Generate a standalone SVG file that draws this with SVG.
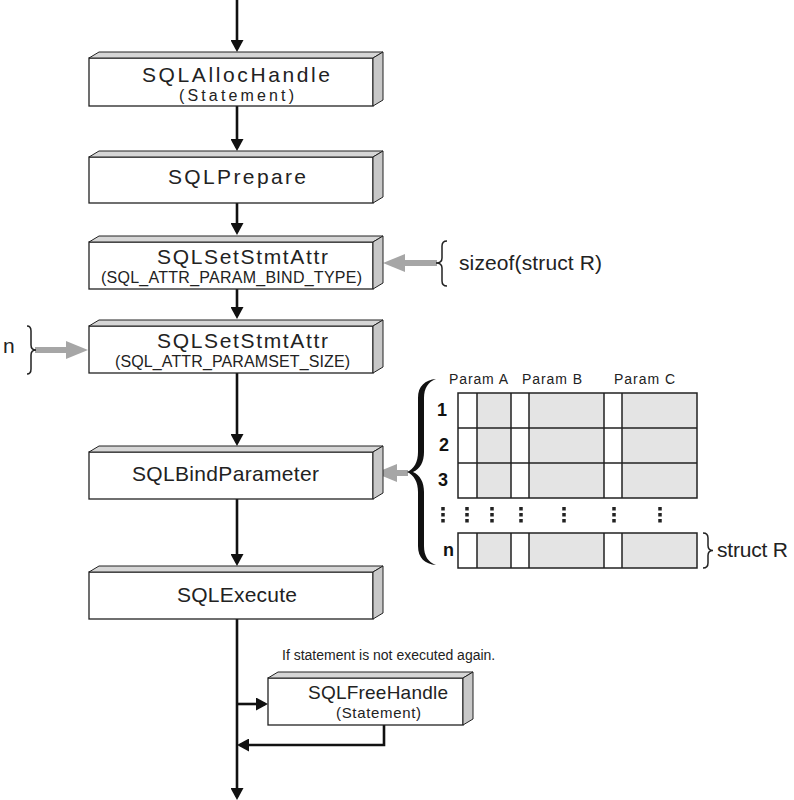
<svg xmlns="http://www.w3.org/2000/svg" width="794" height="800" viewBox="0 0 794 800">
<style>
.front{fill:#fff;stroke:#222;stroke-width:1.3}
.top{fill:#d6d6d6;stroke:#222;stroke-width:1}
.side{fill:#c8c8c8;stroke:#222;stroke-width:1}
.t{font-family:"Liberation Sans",Arial,sans-serif;fill:#222}
.big{font-size:21px}
.small{font-size:16px}
.flow{fill:none;stroke:#111;stroke-width:2.6;marker-end:url(#ah)}
.gray{fill:none;stroke:#a6a6a6;stroke-width:6;marker-end:url(#gh)}
.brace{fill:none;stroke:#222;stroke-width:1.5}
.cellw{fill:#fff}
.cellg{fill:#e4e4e4}
.grid{fill:none;stroke:#222;stroke-width:1.5}
.dots{stroke:#222;stroke-width:3.5;stroke-dasharray:3.5 2.5}
.num{font-family:"Liberation Sans",Arial,sans-serif;font-weight:bold;font-size:18px;fill:#111}
</style>
<defs>
<marker id="ah" markerUnits="userSpaceOnUse" markerWidth="12" markerHeight="13" viewBox="0 0 12 13" refX="9" refY="6.5" orient="auto"><path d="M0,0 L12,6.5 L0,13 z" fill="#111"/></marker>
<marker id="gh" markerUnits="userSpaceOnUse" markerWidth="22" markerHeight="18" viewBox="0 0 22 18" refX="0" refY="9" orient="auto"><path d="M0,0 L22,9 L0,18 z" fill="#a6a6a6"/></marker>
</defs>

<g id="connectors">
<line class="flow" x1="237" y1="0" x2="237" y2="49"/>
<line class="flow" x1="237" y1="106" x2="237" y2="148"/>
<line class="flow" x1="237" y1="203" x2="237" y2="232"/>
<line class="flow" x1="237" y1="289" x2="237" y2="316"/>
<line class="flow" x1="237" y1="373" x2="237" y2="443"/>
<line class="flow" x1="237" y1="499" x2="237" y2="563"/>
<line class="flow" x1="237" y1="619" x2="237" y2="797"/>
<line class="flow" x1="237" y1="704" x2="265" y2="704"/>
<path class="flow" d="M384,725 L384,745 L240,745"/>
<line class="gray" x1="437" y1="263" x2="405" y2="263"/>
<line class="gray" x1="35" y1="350" x2="66" y2="350"/>
<line class="gray" x1="408" y1="473" x2="397" y2="473"/>
</g>

<g id="n1">
<rect class="front" x="89" y="58" width="284" height="48"/>
<polygon class="top" points="89,58 99,52 383,52 373,58"/>
<polygon class="side" points="373,58 383,52 383,100 373,106"/>
<text class="t big" x="142" y="81.5" textLength="188" lengthAdjust="spacing">SQLAllocHandle</text>
<text class="t small" x="179" y="101" textLength="115" lengthAdjust="spacing">(Statement)</text>
</g>

<g id="n2">
<rect class="front" x="89" y="157" width="284" height="46"/>
<polygon class="top" points="89,157 99,151 383,151 373,157"/>
<polygon class="side" points="373,157 383,151 383,197 373,203"/>
<text class="t big" x="168" y="184" textLength="138" lengthAdjust="spacing">SQLPrepare</text>
</g>

<g id="n3">
<rect class="front" x="89" y="242" width="284" height="47"/>
<polygon class="top" points="89,242 99,236 383,236 373,242"/>
<polygon class="side" points="373,242 383,236 383,283 373,289"/>
<text class="t big" x="157" y="264" textLength="171" lengthAdjust="spacing">SQLSetStmtAttr</text>
<text class="t small" x="101" y="283" textLength="261" lengthAdjust="spacing">(SQL_ATTR_PARAM_BIND_TYPE)</text>
</g>

<g id="n4">
<rect class="front" x="89" y="326" width="284" height="47"/>
<polygon class="top" points="89,326 99,320 383,320 373,326"/>
<polygon class="side" points="373,326 383,320 383,367 373,373"/>
<text class="t big" x="157" y="348" textLength="171" lengthAdjust="spacing">SQLSetStmtAttr</text>
<text class="t small" x="115" y="367" textLength="235" lengthAdjust="spacing">(SQL_ATTR_PARAMSET_SIZE)</text>
</g>

<g id="n5">
<rect class="front" x="89" y="452" width="284" height="47"/>
<polygon class="top" points="89,452 99,446 383,446 373,452"/>
<polygon class="side" points="373,452 383,446 383,493 373,499"/>
<text class="t big" x="132" y="481" textLength="187" lengthAdjust="spacing">SQLBindParameter</text>
</g>

<g id="n6">
<rect class="front" x="89" y="572" width="284" height="47"/>
<polygon class="top" points="89,572 99,566 383,566 373,572"/>
<polygon class="side" points="373,572 383,566 383,613 373,619"/>
<text class="t big" x="177" y="602" textLength="120" lengthAdjust="spacing">SQLExecute</text>
</g>

<g id="n7">
<rect class="front" x="268" y="678" width="195" height="47"/>
<polygon class="top" points="268,678 278,672 473,672 463,678"/>
<polygon class="side" points="463,678 473,672 473,719 463,725"/>
<text class="t" font-size="19" x="308" y="699" textLength="140" lengthAdjust="spacing">SQLFreeHandle</text>
<text class="t" font-size="15" x="336" y="718" textLength="85" lengthAdjust="spacing">(Statement)</text>
</g>

<g id="note">
<text class="t" font-size="14" x="282" y="660">If statement is not executed again.</text>
</g>

<g id="sizeof">
<path class="brace" d="M447,241 Q442,241 442,246 L442,258 Q442,263 436,263 Q442,263 442,268 L442,281 Q442,286 447,286"/>
<text class="t big" x="459" y="270" textLength="143" lengthAdjust="spacing">sizeof(struct R)</text>
</g>

<g id="nsize">
<text class="t" font-size="21" x="3" y="353">n</text>
<path class="brace" d="M27,326 Q31,326 31,331 L31,345 Q31,350 36,350 Q31,350 31,355 L31,369 Q31,374 27,374"/>
</g>

<g id="array">
<path fill="#111" d="M436,379 C425,380 418,386 418,398 L418,452 C418,462 414,469 407,472 C414,475 418,482 418,492 L418,546 C418,558 425,564 436,565 C428,562 424,556 424,546 L424,492 C424,482 420,475 413,472 C420,469 424,462 424,452 L424,398 C424,388 428,382 436,379 Z"/>
<text class="t" font-size="14" x="449" y="384" textLength="59" lengthAdjust="spacing">Param A</text>
<text class="t" font-size="14" x="522" y="384" textLength="60" lengthAdjust="spacing">Param B</text>
<text class="t" font-size="14" x="614" y="384" textLength="61" lengthAdjust="spacing">Param C</text>
<text class="num" x="437" y="416">1</text>
<text class="num" x="439" y="451">2</text>
<text class="num" x="438" y="486">3</text>
<text class="num" x="443" y="556">n</text>
<rect class="cellw" x="458" y="393" width="239" height="105"/>
<rect class="cellg" x="477" y="393" width="34" height="105"/>
<rect class="cellg" x="529" y="393" width="75" height="105"/>
<rect class="cellg" x="622" y="393" width="75" height="105"/>
<path class="grid" d="M458,428 H697 M458,463 H697 M477,393 V498 M511,393 V498 M529,393 V498 M604,393 V498 M622,393 V498"/>
<rect class="grid" x="458" y="393" width="239" height="105"/>
<rect class="cellw" x="458" y="533" width="239" height="35"/>
<rect class="cellg" x="477" y="533" width="34" height="35"/>
<rect class="cellg" x="529" y="533" width="75" height="35"/>
<rect class="cellg" x="622" y="533" width="75" height="35"/>
<path class="grid" d="M477,533 V568 M511,533 V568 M529,533 V568 M604,533 V568 M622,533 V568"/>
<rect class="grid" x="458" y="533" width="239" height="35"/>
<path class="dots" d="M443,507 V523 M467,507 V523 M492,507 V523 M521,507 V523 M564,507 V523 M614,507 V523 M660,507 V523"/>
<path class="brace" d="M703,533 Q708,533 708,538 L708,545.5 Q708,550.5 713,550.5 Q708,550.5 708,555.5 L708,563 Q708,568 703,568"/>
<text class="t big" x="717" y="557" textLength="71" lengthAdjust="spacing">struct R</text>
</g>
</svg>
